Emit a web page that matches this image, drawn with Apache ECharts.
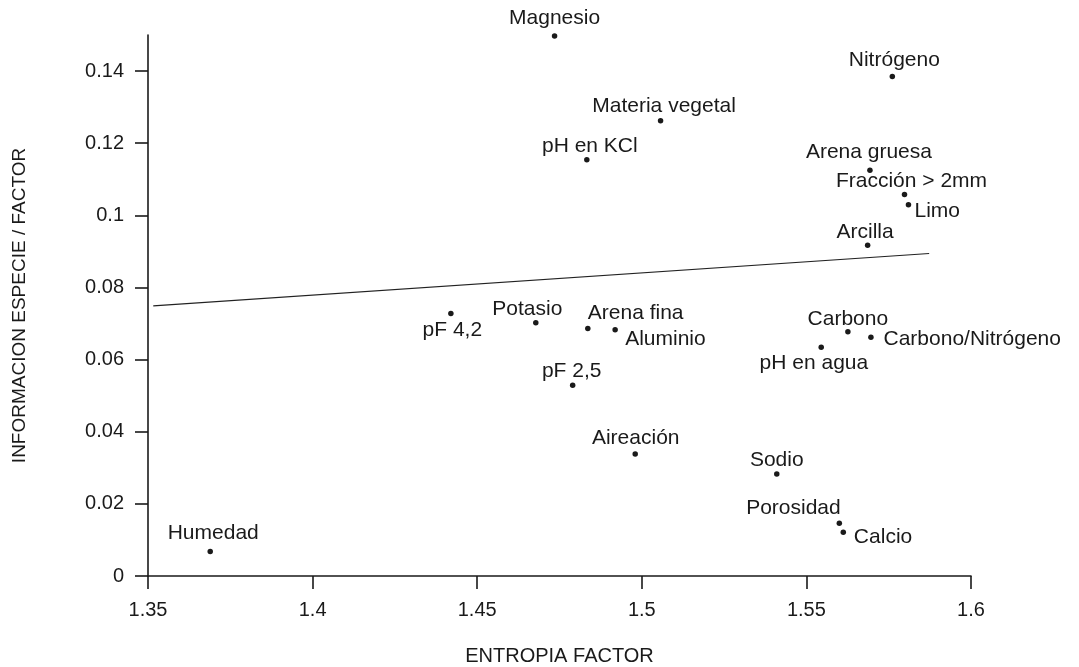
<!DOCTYPE html>
<html>
<head>
<meta charset="utf-8">
<script src="https://cdn.jsdelivr.net/npm/echarts@6/dist/echarts.min.js"></script>
<style>
html,body{margin:0;padding:0;background:#fff;}
#c{width:1079px;height:667px;}
</style>
</head>
<body>
<div id="c"></div>
<script>
// ---- data ----
const categories = ['Magnesio','Nitrógeno','Materia vegetal','pH en KCl','Arena gruesa','Fracción > 2mm','Limo','Arcilla','pF 4,2','Potasio','Arena fina','Aluminio','pF 2,5','Carbono','Carbono/Nitrógeno','pH en agua','Aireación','Sodio','Porosidad','Calcio','Humedad'];
const entropiaFactor = [1.4735,1.5761,1.5057,1.4833,1.5693,1.5798,1.5810,1.5686,1.4420,1.4678,1.4836,1.4919,1.4790,1.5626,1.5696,1.5545,1.4980,1.5410,1.5600,1.5612,1.3689];
const informacion = [0.1497,0.1385,0.1262,0.1154,0.1125,0.1058,0.1029,0.0917,0.0728,0.0702,0.0686,0.0683,0.0529,0.0677,0.0662,0.0634,0.0338,0.0283,0.0146,0.0121,0.0068];
const thresholdX = [1.3516, 1.5873];
const thresholdY = [0.0749, 0.0894];
const thresholdLabel = '5 %';
const xTicks = [1.35, 1.4, 1.45, 1.5, 1.55, 1.6];
const yTicks = [0, 0.02, 0.04, 0.06, 0.08, 0.1, 0.12, 0.14];
const xTitle = 'ENTROPIA FACTOR';
const yTitle = 'INFORMACION ESPECIE / FACTOR';

// ---- label layout (offsets from dot centre, px) ----
const labelLayout = [
  [0,-18,'center'],[2,-16,'center'],[3.5,-14.5,'center'],[3,-14,'center'],[-1,-18,'center'],
  [7,-13,'center'],[6,6.5,'left'],[-2.5,-13.5,'center'],[1.5,17,'center'],[-8.5,-13.3,'center'],
  [0,-15.7,'left'],[10,10,'left'],[-1,-14,'center'],[0,-13,'center'],[12.6,2.3,'left'],
  [-7.3,15.6,'center'],[0.5,-16,'center'],[0,-14,'center'],[1.4,-15,'right'],[10.6,4.4,'left'],[3,-18.4,'center']
];

const FONT = '"Liberation Sans", Arial, Helvetica, sans-serif';
const INK = '#1a1a1a';
const DOT = 5.5;

const points = categories.map((name, i) => ({
  name: name,
  value: [entropiaFactor[i], informacion[i]],
  label: {
    show: true,
    formatter: name,
    position: [labelLayout[i][0] + DOT / 2, labelLayout[i][1] + DOT / 2],
    align: labelLayout[i][2],
    verticalAlign: 'middle',
    color: INK,
    opacity: 1,
    fontFamily: FONT,
    fontSize: 21,
    textBorderWidth: 0
  }
}));

const chart = echarts.init(document.getElementById('c'), null, {renderer: 'canvas'});
chart.setOption({
  animation: false,
  backgroundColor: '#fff',
  textStyle: {fontFamily: FONT, color: INK},
  grid: {left: 148, right: 108, top: 35, bottom: 91, containLabel: false, outerBoundsMode: 'none'},
  xAxis: {
    type: 'value',
    min: 1.35, max: 1.6, interval: 0.05,
    name: xTitle, nameLocation: 'middle', nameGap: 70,
    nameTextStyle: {fontFamily: FONT, fontSize: 20, color: INK},
    axisLine: {show: true, onZero: false, lineStyle: {color: INK, width: 1.6}},
    axisTick: {show: true, length: 13, lineStyle: {color: INK, width: 1.6}, customValues: xTicks},
    axisLabel: {fontFamily: FONT, fontSize: 20, color: INK, margin: 24, customValues: xTicks,
      formatter: v => String(+(+v).toFixed(2))},
    splitLine: {show: false}
  },
  yAxis: {
    type: 'value',
    min: 0, max: 0.15, interval: 0.02,
    name: yTitle, nameLocation: 'middle', nameGap: 119, nameRotate: 90,
    nameTextStyle: {fontFamily: FONT, fontSize: 19, color: INK},
    axisLine: {show: true, onZero: false, lineStyle: {color: INK, width: 1.6}},
    axisTick: {show: true, length: 13, lineStyle: {color: INK, width: 1.6}, customValues: yTicks},
    axisLabel: {fontFamily: FONT, fontSize: 20, color: INK, margin: 24, customValues: yTicks,
      formatter: v => String(+(+v).toFixed(2))},
    splitLine: {show: false}
  },
  series: [
    {
      type: 'line',
      data: thresholdX.map((x, i) => ({
        value: [x, thresholdY[i]],
        label: i === thresholdX.length - 1 ? {
          show: true, formatter: thresholdLabel, position: 'right', distance: 19,
          fontFamily: FONT, fontSize: 17, color: INK
        } : {show: false}
      })),
      symbol: 'none',
      showSymbol: false,
      lineStyle: {color: '#222', width: 1.1, opacity: 1},
      silent: true,
      z: 1
    },
    {
      type: 'scatter',
      data: points,
      symbol: 'circle',
      symbolSize: DOT,
      itemStyle: {color: INK, opacity: 1},
      labelLayout: {hideOverlap: false},
      z: 3
    }
  ]
});
</script>
</body>
</html>
